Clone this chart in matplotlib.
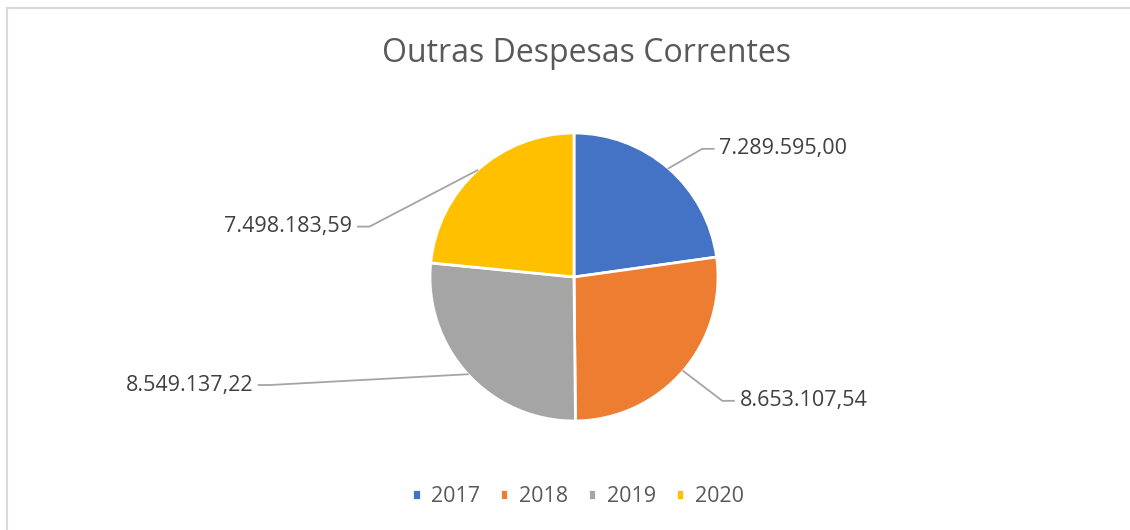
import matplotlib
matplotlib.use("Agg")
import matplotlib.pyplot as plt
import numpy as np

years = ["2017", "2018", "2019", "2020"]
values = [7289595.00, 8653107.54, 8549137.22, 7498183.59]
value_labels = ["7.289.595,00", "8.653.107,54", "8.549.137,22", "7.498.183,59"]
colors = ["#4472C4", "#ED7D31", "#A5A5A5", "#FFC000"]

plt.rcParams['font.family'] = ['Open Sans', 'DejaVu Sans']
text_color = "#595959"

W, H = 1130, 530
fig = plt.figure(figsize=(W / 100, H / 100), dpi=100)

# chart border (only top and left visible in the reference)
fig.patches.append(plt.Rectangle((7 / W, -0.1), 1.2, (H - 8) / H + 0.1,
                                 transform=fig.transFigure, fill=False,
                                 edgecolor="#D9D9D9", linewidth=1.5))

cx, cy, r = 574, 277, 144
ax = fig.add_axes([(cx - r) / W, (H - cy - r) / H, 2 * r / W, 2 * r / H])
wedges, _ = ax.pie(values, colors=colors, startangle=90, counterclock=False,
                   wedgeprops=dict(edgecolor="white", linewidth=2))
ax.set_xlim(-1, 1)
ax.set_ylim(-1, 1)
ax.set_aspect("equal")
ax.axis("off")

# elbow / text placement in pie units (per slice)
elbows = [(0.89, 0.89), (1.03, -0.86), (-2.11, -0.75), (-1.42, 0.35)]
for w, lab, (ex, ey) in zip(wedges, value_labels, elbows):
    ang = np.deg2rad((w.theta1 + w.theta2) / 2)
    x0, y0 = np.cos(ang), np.sin(ang)
    side = 1 if ex > 0 else -1
    hx = ex + side * 0.08
    ax.plot([x0, ex, hx], [y0, ey, ey], color="#A5A5A5", linewidth=1.3,
            clip_on=False)
    ax.text(hx + side * 0.04, ey, lab, ha="left" if side > 0 else "right",
            va="center", fontsize=15.5, color="#404040")

fig.text(586 / W, 1 - 54 / H, "Outras Despesas Correntes", ha="center",
         va="center", fontsize=23, color=text_color)

fig.legend(wedges, years, loc="center", bbox_to_anchor=(578 / W, 1 - 497 / H),
           ncol=4, frameon=False, fontsize=15.5, handlelength=0.4,
           handleheight=0.4, handletextpad=0.5, columnspacing=0.9,
           labelcolor=text_color)

fig.savefig("out.png", dpi=100)
